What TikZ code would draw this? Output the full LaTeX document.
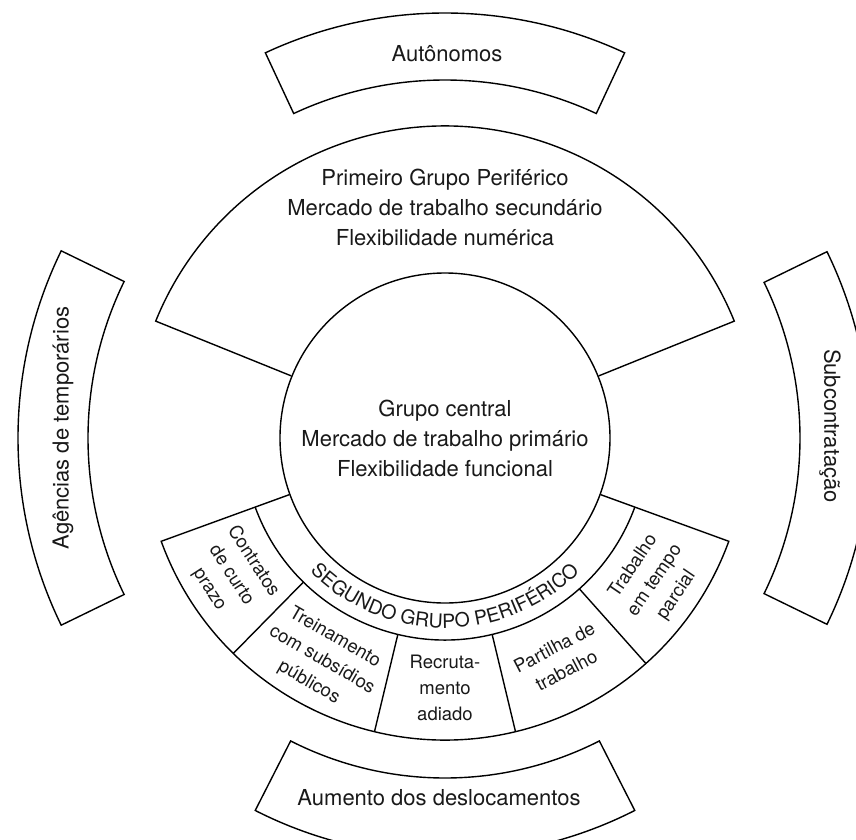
\documentclass[tikz,border=0pt]{standalone}
\usepackage{fontspec}
\setmainfont{TeX Gyre Heros}
\usetikzlibrary{decorations.text}

\begin{document}
\begin{tikzpicture}[line width=1.4pt]

  \clip (-445pt,-401pt) rectangle (411pt,438pt);

  % grupo central
  \node[circle, draw, inner sep=0pt, minimum size=330pt, align=center,
        font=\fontsize{22}{30}\selectfont, text=black!90] (central) at (0,0)
        {Grupo central\\Mercado de trabalho primário\\Flexibilidade funcional};

  % primeiro e segundo grupo
  \draw (central.22) -- (22:312pt) arc[start angle=22, end angle=158, radius=312pt] -- (central.158);
  \draw (central.200) -- (200:302pt) arc[start angle=200, end angle=340, radius=302pt] -- (central.340);
  \draw (200:202pt) arc[start angle=200, end angle=340, radius=202pt];
  \foreach \a in {225.5,256.5,283.5,311.7}
    \draw (\a:202pt) -- (\a:302pt);

  % caixas de fora
  \draw (65:358pt) arc[start angle=65, end angle=115, radius=358pt] -- (115:425pt)
        arc[start angle=115, end angle=65, radius=425pt] -- cycle;
  \draw (154:357pt) arc[start angle=154, end angle=206, radius=357pt] -- (206:427pt)
        arc[start angle=206, end angle=154, radius=427pt] -- cycle;
  \draw (-26:355pt) arc[start angle=-26, end angle=26, radius=355pt] -- (26:425pt)
        arc[start angle=26, end angle=-26, radius=425pt] -- cycle;
  \draw (243:340pt) arc[start angle=243, end angle=297, radius=340pt] -- (297:418pt)
        arc[start angle=297, end angle=243, radius=418pt] -- cycle;

  \begin{scope}[every node/.style={font=\fontsize{22}{30}\selectfont, align=center, text=black!90}]
    \node (autonomos) at (2pt,384pt) {Autônomos};
    \node[rotate=90] (agencias) at (-382pt,10pt) {Agências de temporários};
    \node[rotate=-90] (subcontr) at (385pt,12pt) {Subcontratação};
    \node (deslocam) at (-6pt,-360pt) {Aumento dos deslocamentos};
    \node (primeiro) at (0pt,231pt) {Primeiro Grupo Periférico\\Mercado de trabalho secundário\\Flexibilidade numérica};
  \end{scope}

  \begin{scope}[every node/.style={font=\fontsize{18.5}{26}\selectfont, align=center, text=black!90}]
    \node[rotate=-57] (contratos) at (212.75:254pt) {Contratos\\de curto\\prazo};
    \node[rotate=-30] (treino) at (241:254pt) {Treinamento\\com subsídios\\públicos};
    \node (recruta) at (270:250pt) {Recruta-\\mento\\adiado};
    \node[rotate=27.6] (partilha) at (297.6:249pt) {Partilha de\\trabalho};
    \node[rotate=55.8] (parcial) at (325.8:254pt) {Trabalho\\em tempo\\parcial};
  \end{scope}

  \path[decorate, decoration={text along path, text align=center, text color=black!90,
        text={|\fontsize{19.5}{20}\selectfont|SEGUNDO GRUPO PERIFÉRICO}}]
        (210:190pt) arc[start angle=210, end angle=330, radius=190pt];

\end{tikzpicture}
\end{document}
